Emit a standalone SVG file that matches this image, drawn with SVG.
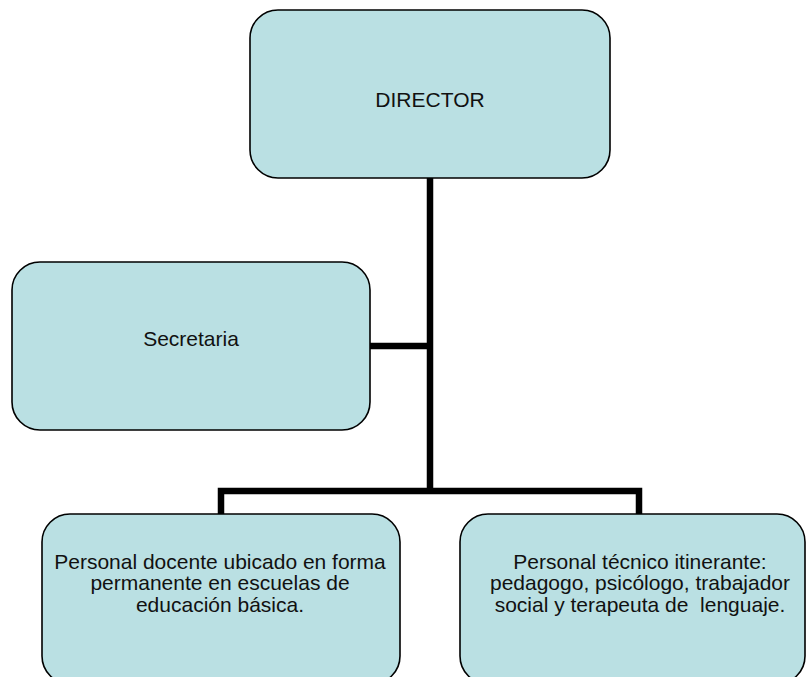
<svg xmlns="http://www.w3.org/2000/svg" width="807" height="677" viewBox="0 0 807 677">
  <style>
    .box { fill: #bae0e3; stroke: #000000; stroke-width: 1.6; }
    .label { font-family: "Liberation Sans", Arial, sans-serif; font-size: 21px; fill: #111111; text-anchor: middle; white-space: pre; }
    .wire { fill: none; stroke: #000000; stroke-width: 6.5; stroke-linejoin: miter; stroke-linecap: butt; }
  </style>
  <rect width="807" height="677" fill="#ffffff"/>

  <!-- organisation chart connectors -->
  <g id="connectors">
    <path class="wire" d="M430 178 V494"/>
    <path class="wire" d="M370 346 H430"/>
    <path class="wire" d="M221 514 V491 H639 V514"/>
  </g>

  <g id="director">
    <rect class="box" x="250" y="10" width="360" height="168" rx="28" ry="28"/>
    <text class="label" x="430" y="107">DIRECTOR</text>
  </g>

  <g id="secretaria">
    <rect class="box" x="12" y="262" width="358" height="168" rx="28" ry="28"/>
    <text class="label" x="191" y="346">Secretaria</text>
  </g>

  <g id="personal-docente">
    <rect class="box" x="42" y="514" width="358" height="170" rx="28" ry="28"/>
    <text class="label" x="220" y="569">Personal docente ubicado en forma</text>
    <text class="label" x="220" y="590">permanente en escuelas de</text>
    <text class="label" x="220" y="612">educación básica.</text>
  </g>

  <g id="personal-tecnico">
    <rect class="box" x="460" y="514" width="345" height="170" rx="28" ry="28"/>
    <text class="label" x="640" y="569">Personal técnico itinerante:</text>
    <text class="label" x="640" y="590">pedagogo, psicólogo, trabajador</text>
    <text class="label" x="640" y="612">social y terapeuta de  lenguaje.</text>
  </g>
</svg>
